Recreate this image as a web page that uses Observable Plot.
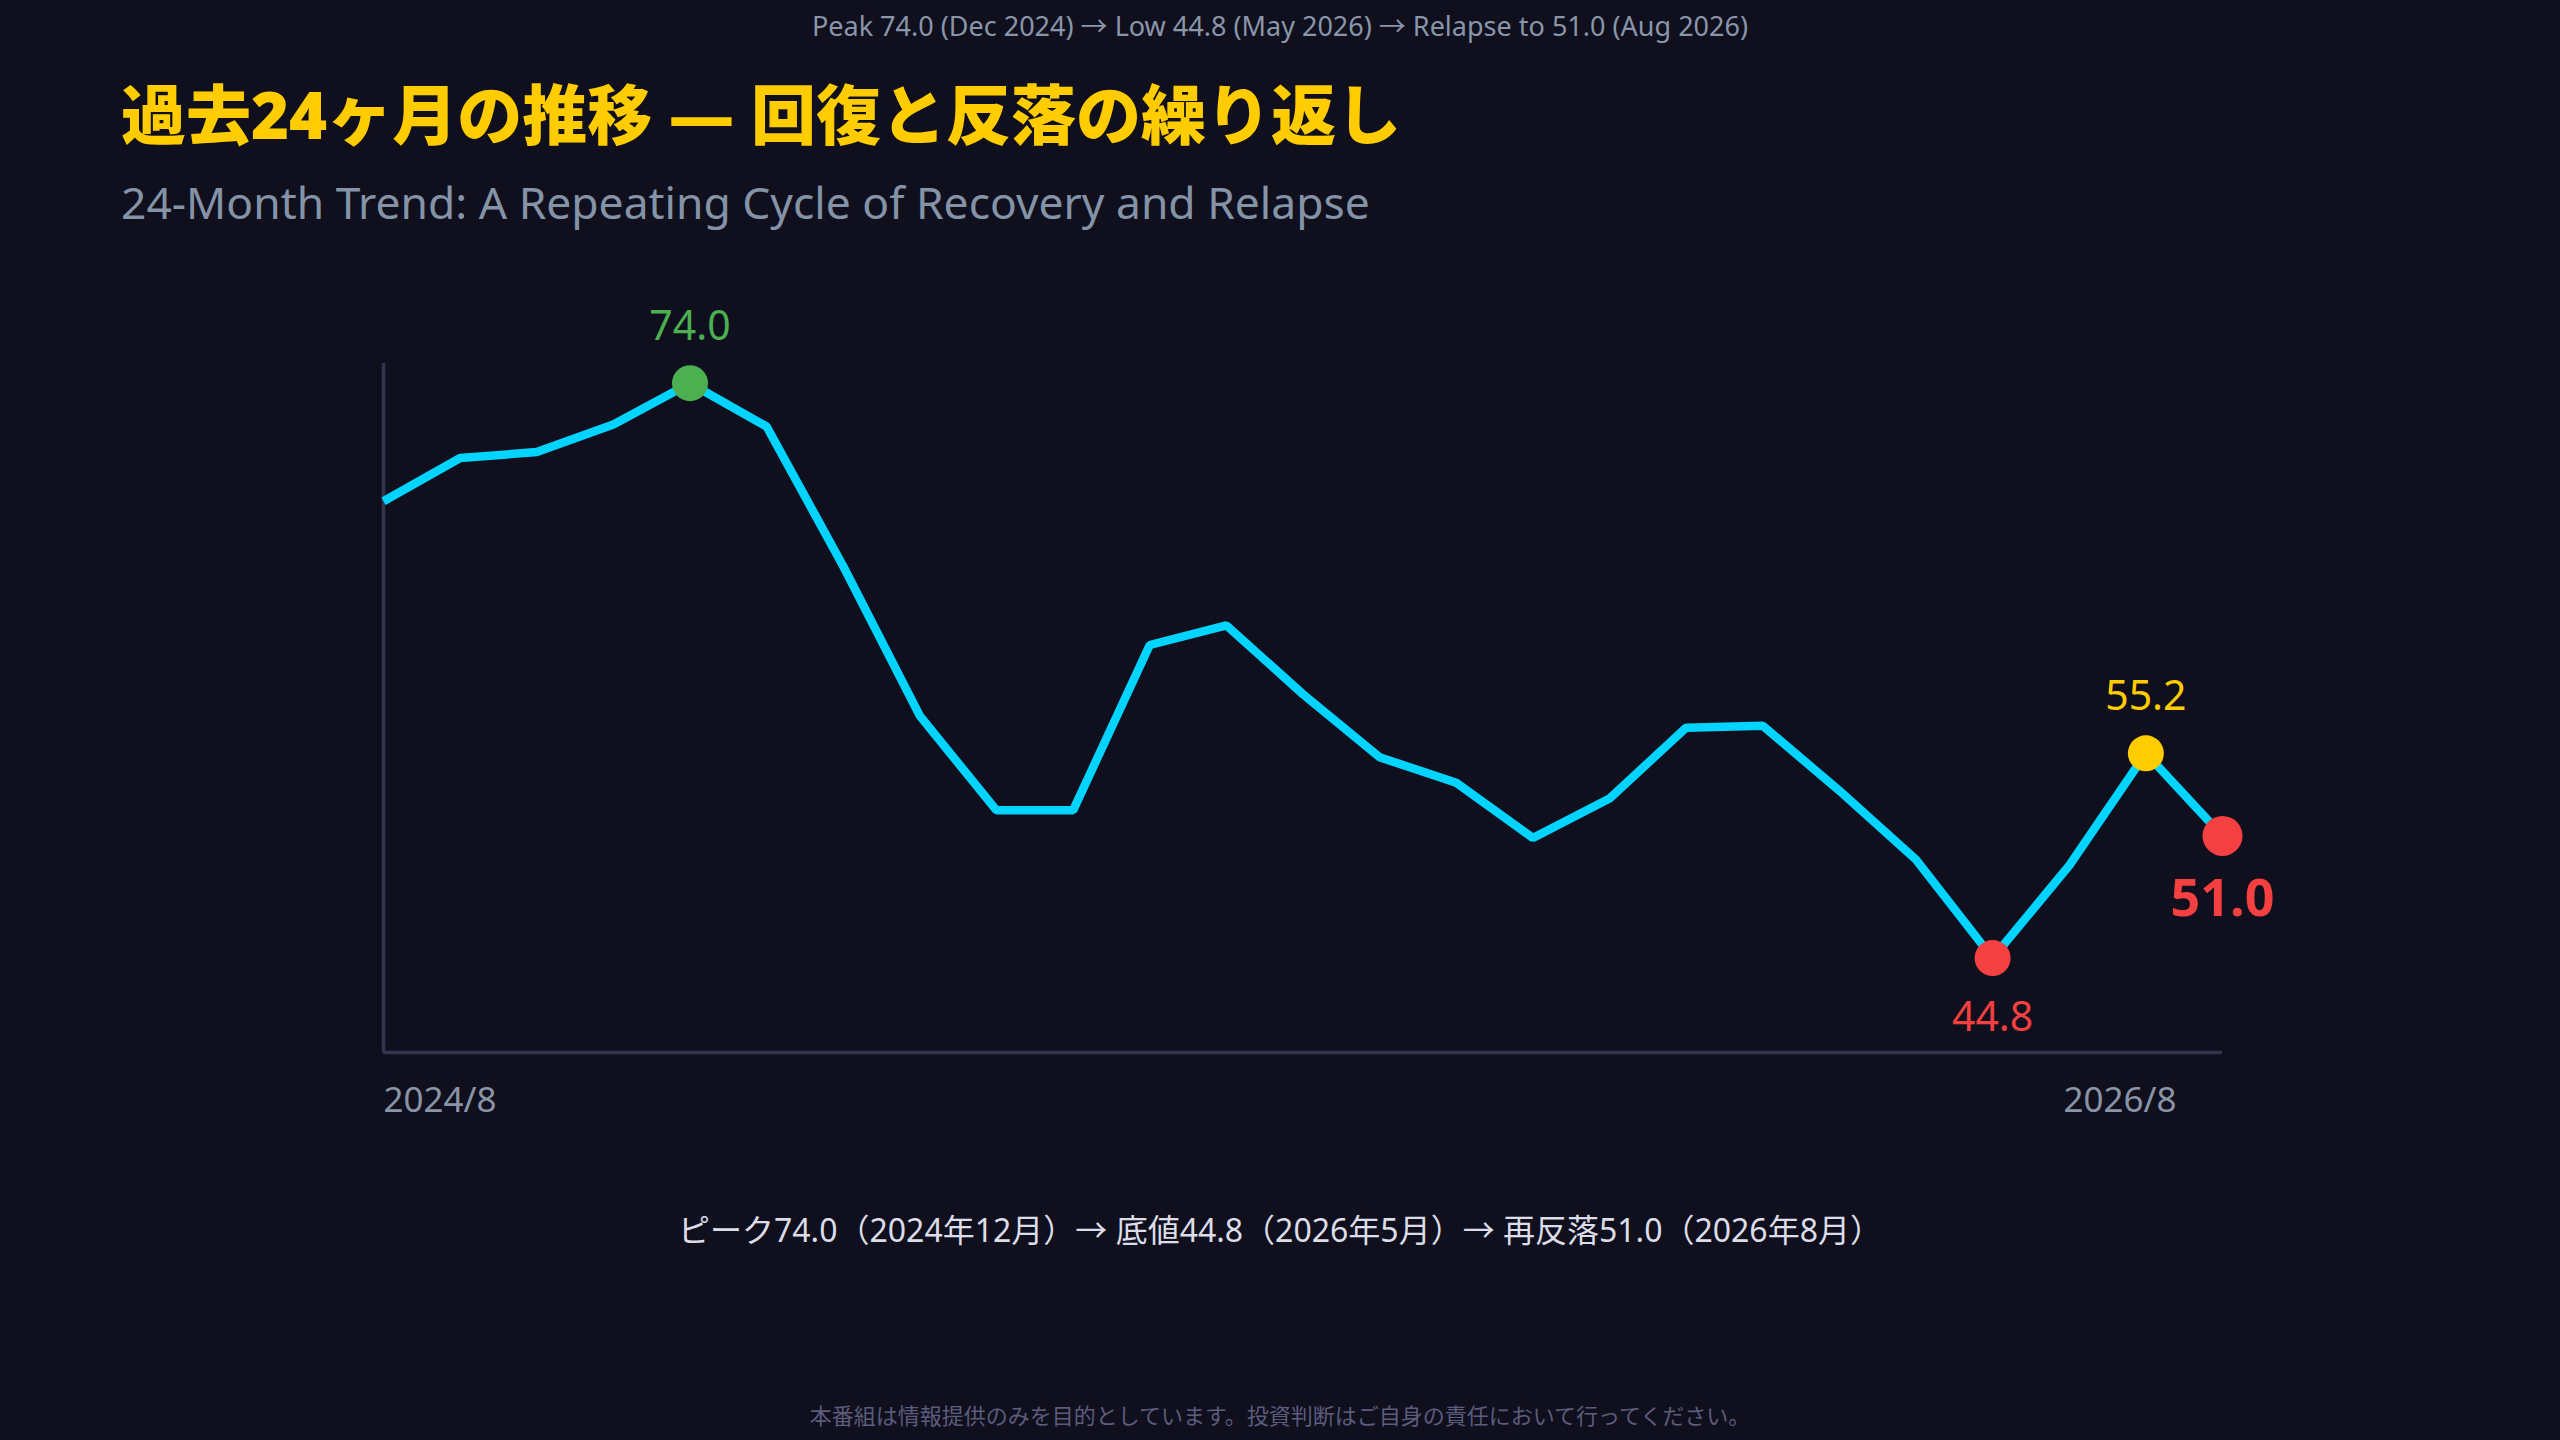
<!DOCTYPE html>
<html lang="ja">
<head>
<meta charset="utf-8">
<script src="https://cdn.jsdelivr.net/npm/d3@7"></script>
<script src="https://cdn.jsdelivr.net/npm/@observablehq/plot@0.6"></script>
<style>
  html, body { margin: 0; padding: 0; }
  body {
    width: 2560px; height: 1440px; overflow: hidden; position: relative;
    background: #0f0f1e;
    font-family: "Noto Sans", "Noto Sans CJK JP", sans-serif;
  }
  .abs { position: absolute; left: 0; white-space: nowrap; line-height: 1; }
  #top { width: 2560px; text-align: center; top: 12px; font-size: 27px; color: #8a96a8; }
  #title { left: 121px; top: 82px; font-size: 65px; font-weight: 900; color: #ffcc00; }
  #sub { left: 121px; top: 180px; font-size: 44.4px; color: #8593a6; }
  #chart { position: absolute; left: 0; top: 290px; }
  #caption { width: 2560px; text-align: center; top: 1214px; font-size: 32px; color: #dcdde8; }
  #footer { width: 2560px; text-align: center; top: 1404px; font-size: 22px; color: #5c5c7c; }
</style>
</head>
<body>
<div class="abs" id="top">Peak 74.0 (Dec 2024) → Low 44.8 (May 2026) → Relapse to 51.0 (Aug 2026)</div>
<div class="abs" id="title">過去24ヶ月の推移 — 回復と反落の繰り返し</div>
<div class="abs" id="sub">24-Month Trend: A Repeating Cycle of Recovery and Relapse</div>
<div id="chart"></div>
<div class="abs" id="caption">ピーク74.0（2024年12月）→ 底値44.8（2026年5月）→ 再反落51.0（2026年8月）</div>
<div class="abs" id="footer">本番組は情報提供のみを目的としています。投資判断はご自身の責任において行ってください。</div>
<script>
const months = ["2024/8","2024/9","2024/10","2024/11","2024/12","2025/1","2025/2","2025/3","2025/4","2025/5","2025/6","2025/7","2025/8","2025/9","2025/10","2025/11","2025/12","2026/1","2026/2","2026/3","2026/4","2026/5","2026/6","2026/7","2026/8"];
const values = [68.0,70.2,70.5,71.9,74.0,71.8,64.7,57.1,52.3,52.3,60.7,61.7,58.2,55.0,53.7,50.9,52.9,56.5,56.6,53.3,49.8,44.8,49.5,55.2,51.0];

const highlightIdx = [4, 21, 23, 24];
const highlightColors = ["#4caf50", "#f44040", "#ffcc00", "#f44040"];
const tickLabels = ["2024/8", "2026/8"];

const data = months.map((m, i) => ({i, month: m, v: values[i]}));
const hl = highlightIdx.map((i, k) => ({i, v: values[i], color: highlightColors[k], label: values[i].toFixed(1)}));

const axisColor = "#34344e";
const font = '"Noto Sans", "Noto Sans CJK JP", sans-serif';

const chart = Plot.plot({
  width: 2560,
  height: 860,
  marginLeft: 383,
  marginRight: 338,
  marginTop: 73,
  marginBottom: 98,
  x: {domain: [0, months.length - 1], axis: null},
  y: {domain: [40, 75], axis: null},
  style: {background: "transparent", fontFamily: font, overflow: "visible"},
  marks: [
    Plot.ruleX([0], {stroke: axisColor, strokeWidth: 3.5}),
    Plot.ruleY([40], {stroke: axisColor, strokeWidth: 3.5}),
    Plot.line(data, {x: "i", y: "v", stroke: "#00d4ff", strokeWidth: 8.5, strokeLinejoin: "miter", strokeLinecap: "butt"}),
    Plot.dot(hl.filter(d => d.i !== 24), {x: "i", y: "v", r: 18, fill: d => d.color, stroke: null}),
    Plot.dot(hl.filter(d => d.i === 24), {x: "i", y: "v", r: 20, fill: d => d.color, stroke: null}),
    Plot.text(hl.filter(d => d.i === 4 || d.i === 23), {x: "i", y: "v", text: "label", fill: d => d.color, dy: -56, fontSize: 41}),
    Plot.text(hl.filter(d => d.i === 21), {x: "i", y: "v", text: "label", fill: d => d.color, dy: 60, fontSize: 41}),
    Plot.text(hl.filter(d => d.i === 24), {x: "i", y: "v", text: "label", fill: d => d.color, dy: 63, fontSize: 52, fontWeight: 700}),
    Plot.text([tickLabels[0]], {x: 0, y: 40, text: d => d, textAnchor: "start", dy: 48, fontSize: 35, fill: "#8a94a6"}),
    Plot.text([tickLabels[1]], {x: months.length - 1, y: 40, text: d => d, textAnchor: "end", dx: -46, dy: 48, fontSize: 35, fill: "#8a94a6"})
  ]
});
document.getElementById("chart").appendChild(chart);
</script>
</body>
</html>
